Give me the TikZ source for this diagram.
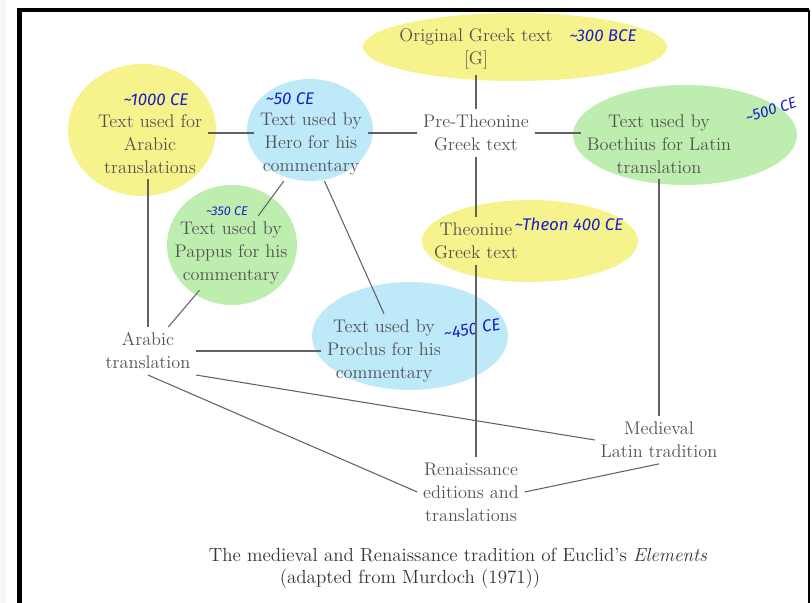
\documentclass[tikz,border=0pt]{standalone}
\usepackage{fontspec}
\usepackage{xcolor}
\usepackage{tikz}
\usetikzlibrary{positioning, calc}
\newfontfamily\handfont{Fira Sans}

\definecolor{hlyellow}{RGB}{247,243,140}
\definecolor{hlblue}{RGB}{190,233,248}
\definecolor{hlgreen}{RGB}{190,238,175}
\definecolor{pen}{RGB}{25,30,200}

\begin{document}
\begin{tikzpicture}[
  x=0.025cm, y=-0.025cm,
  txt/.style={
    align=center, inner sep=4pt, text=black!68,
    font=\fontsize{13}{16.4}\selectfont
  },
  caption/.style={
    align=center, inner sep=0pt, text=black!80,
    font=\fontsize{13.5}{16.4}\selectfont
  },
  pennote/.style={
    inner sep=0pt, text=pen, font=\handfont\itshape\fontsize{12}{14}\selectfont
  },
  link/.style={draw=black!62, line width=0.75pt}
]
  \useasboundingbox (0,0) rectangle (812,603);
  \fill[gray!7] (0,0) rectangle (6,603);
  \draw[line width=3pt] (19.5,610) -- (19.5,10) -- (809,10);
  \draw[line width=1.3pt] (809,10) -- (809,610);

  \fill[hlyellow] (515,47) ellipse [x radius=152, y radius=34];
  \fill[hlyellow] (142,130) ellipse [x radius=74, y radius=66];
  \fill[hlblue] (310,130) ellipse [x radius=63, y radius=51];
  \fill[hlgreen] (232,245) ellipse [x radius=65, y radius=60];
  \fill[hlgreen] (685,135) ellipse [x radius=112, y radius=50];
  \fill[hlyellow] (530,241) ellipse [x radius=108, y radius=41];
  \fill[hlblue] (410,336) ellipse [x radius=98, y radius=54];

  \node[txt] (orig) at (476,49) {Original Greek text\\{}[G]};
  \node[txt] (pre) at (476,133) {Pre-Theonine\\Greek text};
  \node[txt] (theon) at (476,241) {Theonine\\Greek text};
  \node[txt] (hero) at (311,144) {Text used by\\Hero for his\\commentary};
  \node[txt] (arabtxt) at (150,144) {Text used for\\Arabic\\translations};
  \node[txt] (boeth) at (659,144) {Text used by\\Boethius for Latin\\translation};
  \node[txt] (pappus) at (231,253) {Text used by\\Pappus for his\\commentary};
  \node[txt] (arabtr) at (148,351) {Arabic\\translation};
  \node[txt] (proclus) at (384,351) {Text used by\\Proclus for his\\commentary};
  \node[txt] (medlat) at (659,440) {Medieval\\Latin tradition};
  \node[txt] (renaiss) at (471,492) {Renaissance\\editions and\\translations};

  \node[caption] (cap1) at (458,555) {The medieval and Renaissance tradition of Euclid's \emph{Elements}};
  \node[caption] (cap2) at (410,579) {(adapted from Murdoch (1971))};

  \node[pennote] (n300) at (603,36) {\textasciitilde 300 BCE};
  \node[pennote] (n1000) at (156,100) {\textasciitilde 1000 CE};
  \node[pennote] (n50) at (290,99) {\textasciitilde 50 CE};
  \node[pennote, font=\handfont\itshape\small] (n350) at (227,211) {\textasciitilde 350 CE};
  \node[pennote, rotate=18, font=\handfont\itshape\fontsize{11}{13}\selectfont] (n500) at (771,110) {\textasciitilde 500 CE};
  \node[pennote] (ntheon) at (569,224) {\textasciitilde Theon 400 CE};
  \node[pennote, rotate=10] (n450) at (472,329) {\textasciitilde 450 CE};

  \draw[link] (orig) -- (pre);
  \draw[link] (pre) -- (theon);
  \draw[link] (arabtxt.east |- pre.west) -- (hero.west |- pre.west);
  \draw[link] (hero.east |- pre.west) -- (pre.west);
  \draw[link] (pre.east) -- (boeth.west |- pre.east);
  \draw[link] (hero) -- (pappus);
  \draw[link] (hero.-70) -- (proclus.north);
  \draw[link] (arabtxt.south -| arabtr.north) -- (arabtr);
  \draw[link] (pappus) -- (arabtr);
  \draw[link] (arabtr) -- (proclus);
  \draw[link] (arabtr.south east) -- (medlat.west);
  \draw[link] (arabtr.south) -- (renaiss.west);
  \draw[link] (renaiss.east) -- (medlat.south);
  \draw[link] (boeth) -- (medlat);
  \draw[link] (theon.south) -- (theon.south |- renaiss.north);
\end{tikzpicture}
\end{document}
